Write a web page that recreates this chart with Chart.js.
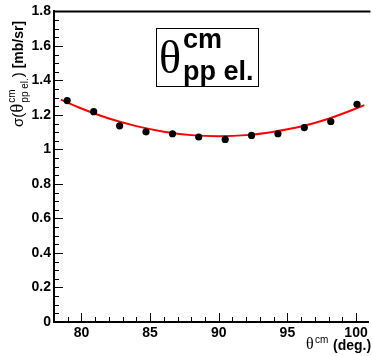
<!DOCTYPE html>
<html>
<head>
<meta charset="utf-8">
<script src="https://cdn.jsdelivr.net/npm/chart.js@4/dist/chart.umd.min.js"></script>
<style>
  html, body { margin: 0; padding: 0; background: #fff; }
  #wrap { width: 372px; height: 356px; }
</style>
</head>
<body>
<div id="wrap"><canvas id="c" width="372" height="356"></canvas></div>
<script>
// Measured pp elastic cross section vs. centre-of-mass angle
const thetaCm = [78.96, 80.89, 82.78, 84.70, 86.63, 88.54, 90.47, 92.39, 94.31, 96.23, 98.16, 100.07];
const sigma   = [1.283, 1.219, 1.137, 1.102, 1.091, 1.072, 1.058, 1.081, 1.091, 1.127, 1.162, 1.262];

// Fitted curve, sampled along the angle range
const fitTheta = [78.5, 80, 82, 84, 86, 88, 90, 92, 94, 96, 98, 100, 100.6];
const fitSigma = [1.289, 1.237, 1.179, 1.135, 1.103, 1.083, 1.077, 1.083, 1.103, 1.133, 1.178, 1.237, 1.257];

// Axis tick labels
const xTicks = [80, 85, 90, 95, 100];
const yTicks = [0, 0.2, 0.4, 0.6, 0.8, 1, 1.2, 1.4, 1.6, 1.8];

const SANS = '"Liberation Sans", Arial, Helvetica, sans-serif';
const SERIF = '"Liberation Serif", "Times New Roman", serif';

// Inner tick marks, top frame line, axis titles and the label box
const framePlugin = {
  id: 'frame',
  afterDraw(chart) {
    const ctx = chart.ctx;
    const a = chart.chartArea;
    const xs = chart.scales.x, ys = chart.scales.y;
    ctx.save();
    ctx.strokeStyle = '#000';

    // top frame line
    ctx.lineWidth = 2;
    ctx.beginPath();
    ctx.moveTo(a.left - 1, a.top);
    ctx.lineTo(a.right + 2, a.top);
    ctx.stroke();

    // y ticks: major every 0.2, minor every 0.05
    ctx.lineWidth = 1;
    ctx.beginPath();
    for (let i = 0; i <= 36; i++) {
      const v = i * 0.05;
      const py = Math.round(ys.getPixelForValue(v)) + 0.5;
      const len = (i % 4 === 0) ? 9 : 5;
      ctx.moveTo(a.left, py);
      ctx.lineTo(a.left + len, py);
    }
    // x ticks: major every 5, minor every 1
    for (let d = 79; d <= 100; d++) {
      const px = Math.round(xs.getPixelForValue(d)) + 0.5;
      const len = (d % 5 === 0) ? 9 : 5;
      ctx.moveTo(px, a.bottom);
      ctx.lineTo(px, a.bottom - len);
    }
    ctx.stroke();

    ctx.fillStyle = '#000';
    ctx.textBaseline = 'alphabetic';
    ctx.textAlign = 'left';

    // x axis title
    ctx.font = '16px ' + SERIF;
    ctx.fillText('θ', 306, 349);
    ctx.font = '10px ' + SANS;
    ctx.fillText('cm', 315, 343);
    ctx.font = 'bold 14px ' + SANS;
    ctx.fillText('(deg.)', 333, 350);

    // y axis title (rotated)
    ctx.save();
    ctx.translate(23, 127);
    ctx.rotate(-Math.PI / 2);
    let x = 0;
    ctx.font = '15px ' + SANS;
    ctx.fillText('σ(', x, 0);
    x += ctx.measureText('σ(').width;
    ctx.font = '19px ' + SERIF;
    ctx.fillText('θ', x, 0);
    x += ctx.measureText('θ').width + 1;
    ctx.font = '10px ' + SANS;
    ctx.fillText('cm', x, -8);
    const wSup = ctx.measureText('cm').width;
    ctx.fillText('pp el.', x, 5);
    const wSub = ctx.measureText('pp el.').width;
    x += Math.max(wSup, wSub) + 1;
    ctx.font = '15px ' + SANS;
    ctx.fillText(')', x, 0);
    x += ctx.measureText(')').width;
    ctx.font = 'bold 14px ' + SANS;
    ctx.fillText(' [mb/sr]', x, 0);
    ctx.restore();

    // label box
    ctx.fillStyle = '#fff';
    ctx.fillRect(156, 28, 103, 59);
    ctx.lineWidth = 1;
    ctx.strokeRect(156.5, 28.5, 102, 58);
    ctx.fillStyle = '#000';
    ctx.font = '46px ' + SERIF;
    ctx.fillText('θ', 159, 73);
    ctx.font = 'bold 27px ' + SANS;
    ctx.fillText('cm', 183, 48);
    ctx.fillText('pp el.', 183, 80);

    ctx.restore();
  }
};

new Chart(document.getElementById('c'), {
  type: 'scatter',
  data: {
    datasets: [
      {
        label: 'data',
        data: thetaCm.map((t, i) => ({ x: t, y: sigma[i] })),
        backgroundColor: '#000',
        borderColor: '#000',
        pointRadius: 3.6,
        pointHoverRadius: 3.6,
        borderWidth: 0,
        order: 0
      },
      {
        label: 'fit',
        data: fitTheta.map((t, i) => ({ x: t, y: fitSigma[i] })),
        showLine: true,
        borderColor: '#ff0000',
        borderWidth: 2,
        pointRadius: 0,
        cubicInterpolationMode: 'monotone',
        fill: false,
        order: 1
      }
    ]
  },
  options: {
    responsive: false,
    animation: false,
    events: [],
    layout: { padding: { top: 10, right: 0, left: 0, bottom: 0 } },
    plugins: {
      legend: { display: false },
      tooltip: { enabled: false },
      title: { display: false }
    },
    scales: {
      x: {
        type: 'linear',
        min: 78,
        max: 100.9,
        afterBuildTicks(s) { s.ticks = xTicks.map(v => ({ value: v })); },
        afterFit(s) { s.height = 34; },
        grid: { display: false, drawTicks: false },
        border: { display: true, color: '#000', width: 2 },
        ticks: {
          padding: 3,
          color: '#000',
          maxRotation: 0,
          font: { family: SANS, size: 14, weight: 'bold' },
          callback: v => String(v)
        }
      },
      y: {
        type: 'linear',
        min: 0,
        max: 1.8,
        afterBuildTicks(s) { s.ticks = yTicks.map(v => ({ value: v })); },
        afterFit(s) { s.width = 54; },
        grid: { display: false, drawTicks: false },
        border: { display: true, color: '#000', width: 2 },
        ticks: {
          padding: 3,
          color: '#000',
          font: { family: SANS, size: 14, weight: 'bold' },
          callback: v => String(Math.round(v * 10) / 10)
        }
      }
    }
  },
  plugins: [framePlugin]
});
</script>
</body>
</html>
